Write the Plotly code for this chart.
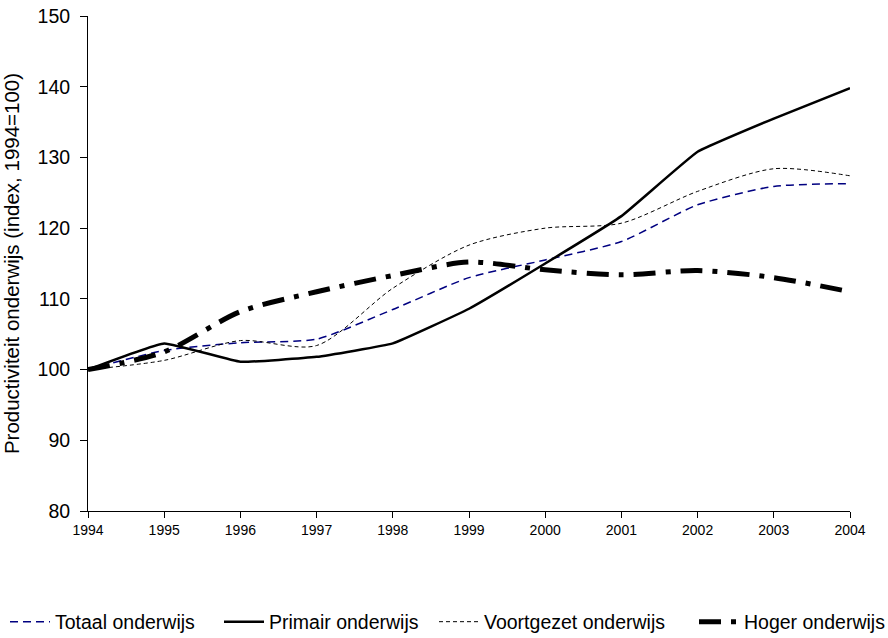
import plotly.graph_objects as go

# Index of productivity in education, 1994 = 100
years = [1994, 1995, 1996, 1997, 1998, 1999, 2000, 2001, 2002, 2003, 2004]
totaal = [100.0, 102.7, 103.8, 104.3, 108.5, 113.0, 115.5, 118.1, 123.3, 125.9, 126.3]
primair = [100.0, 103.7, 101.1, 101.8, 103.7, 108.6, 115.0, 121.7, 130.8, 135.5, 139.8]
voortgezet = [100.0, 101.3, 104.1, 103.4, 111.5, 117.6, 120.0, 120.7, 125.2, 128.4, 127.4]
hoger = [100.0, 102.5, 108.2, 111.0, 113.3, 115.2, 114.1, 113.4, 114.0, 113.0, 111.0]

series_names = ["Totaal onderwijs", "Primair onderwijs", "Voortgezet onderwijs", "Hoger onderwijs"]

FONT = "Liberation Sans, Arial, sans-serif"

W, H = 888, 638
ML, MR, MT, MB = 88, 38, 16, 127
PW, PH = W - ML - MR, H - MT - MB

# each series gets its own legend box along the bottom row
legend_px = [5, 219, 434, 694]
legend_row_px = 622

fig = go.Figure()
fig.add_trace(go.Scatter(
    x=years, y=totaal, name=series_names[0], mode="lines", legend="legend",
    line=dict(color="#000080", width=1.5, dash="8px,5px", shape="spline", smoothing=0.6),
))
fig.add_trace(go.Scatter(
    x=years, y=primair, name=series_names[1], mode="lines", legend="legend2",
    line=dict(color="black", width=2.5, shape="spline", smoothing=0.3),
))
fig.add_trace(go.Scatter(
    x=years, y=voortgezet, name=series_names[2], mode="lines", legend="legend3",
    line=dict(color="black", width=1, dash="4px,3px", shape="spline", smoothing=0.8),
))
fig.add_trace(go.Scatter(
    x=years, y=hoger, name=series_names[3], mode="lines", legend="legend4",
    line=dict(color="black", width=5, dash="22px,10px,5px,10px", shape="spline", smoothing=0.8),
))


def legend_box(px):
    return dict(
        orientation="h",
        x=(px - ML) / PW, xanchor="left",
        y=-(legend_row_px - (MT + PH)) / PH, yanchor="middle",
        font=dict(family=FONT, size=19.5, color="black"),
        itemwidth=40, bgcolor="rgba(0,0,0,0)", borderwidth=0,
    )


fig.update_layout(
    width=W, height=H,
    margin=dict(l=ML, r=MR, t=MT, b=MB, autoexpand=False),
    paper_bgcolor="white", plot_bgcolor="white",
    font=dict(family=FONT, color="black"),
    showlegend=True,
    legend=legend_box(legend_px[0]),
    legend2=legend_box(legend_px[1]),
    legend3=legend_box(legend_px[2]),
    legend4=legend_box(legend_px[3]),
    xaxis=dict(
        range=[1994, 2004], tickmode="array", tickvals=years,
        ticktext=[str(y) for y in years],
        showgrid=False, zeroline=False, automargin=False,
        showline=True, linecolor="black", linewidth=1,
        ticks="outside", ticklen=6, tickcolor="black",
        tickfont=dict(family=FONT, size=14),
    ),
    yaxis=dict(
        range=[80, 150], dtick=10, tick0=80,
        showgrid=False, zeroline=False, automargin=False,
        showline=True, linecolor="black", linewidth=1,
        ticks="outside", ticklen=7, tickcolor="black",
        ticklabelstandoff=6,
        tickfont=dict(family=FONT, size=19.5),
        title=dict(text="Productiviteit onderwijs (index, 1994=100)",
                   font=dict(family=FONT, size=20.5), standoff=12),
    ),
)

fig.write_html("out.html")
